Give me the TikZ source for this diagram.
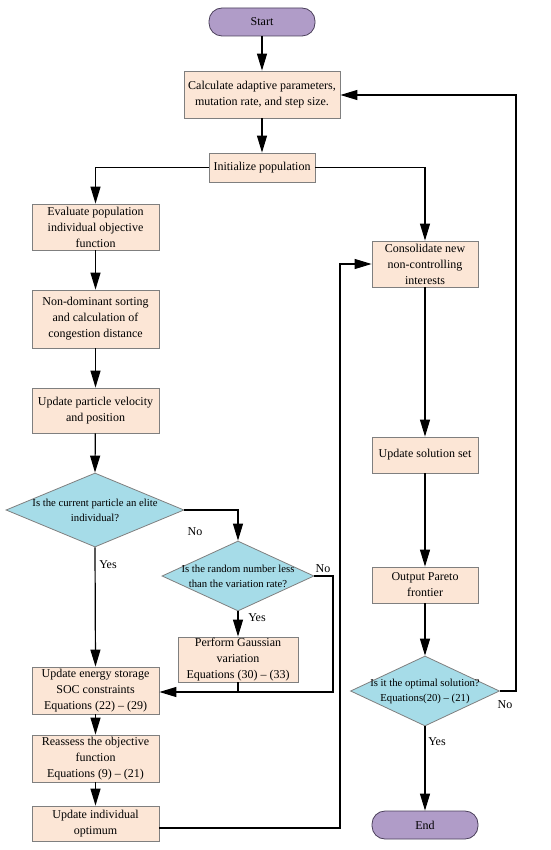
\documentclass[tikz,border=0pt]{standalone}
\usepackage{fontspec}
\setmainfont{Liberation Serif}
\usetikzlibrary{shapes.geometric,arrows.meta}
\definecolor{boxfill}{HTML}{FCE6D6}
\definecolor{boxdraw}{HTML}{7F7F7F}
\definecolor{dfill}{HTML}{A6DCE8}
\definecolor{tfill}{HTML}{B09CC8}
\definecolor{tdraw}{HTML}{4A3F5A}
\begin{document}
\begin{tikzpicture}[x=1pt,y=-1pt,
  font=\fontsize{12}{16}\selectfont,
  pbox/.style={draw=boxdraw,fill=boxfill,line width=0.8pt,align=center,inner sep=0pt},
  dec/.style={diamond,aspect=2.4,draw=boxdraw,fill=dfill,line width=0.8pt,inner sep=0pt},
  dtext/.style={align=center,inner sep=0pt,font=\fontsize{10.7}{15}\selectfont},
  term/.style={draw=tdraw,fill=tfill,rounded corners=13pt,line width=0.8pt,minimum width=106pt,minimum height=28pt},
  arr/.style={line width=1.2pt,-{Triangle[length=17pt,width=10pt]}},
  ln/.style={line width=1.2pt},
  lbl/.style={font=\fontsize{12}{14}\selectfont,inner sep=0pt}]
\useasboundingbox (0,0) rectangle (550,850);
% nodes
\node[term] (start) at (262,22) {Start};
\node[pbox,minimum width=156pt,minimum height=47pt] (calc) at (262,94.5) {Calculate adaptive parameters,\\mutation rate, and step size.};
\node[pbox,minimum width=106pt,minimum height=29pt] (init) at (262,167.5) {Initialize population};
\node[pbox,minimum width=127pt,minimum height=46pt] (eval) at (95.5,227) {Evaluate population\\individual objective\\function};
\node[pbox,minimum width=127pt,minimum height=58pt] (nds) at (95.5,319) {Non-dominant sorting\\and calculation of\\congestion distance};
\node[pbox,minimum width=127pt,minimum height=45pt] (upv) at (95.5,410.5) {Update particle velocity\\and position};
\node[dec,minimum width=178pt,minimum height=74pt] (d1) at (95,510) {};
\node[dtext] (d1t) at (d1.center) {Is the current particle an elite\\individual?};
\node[dec,minimum width=152pt,minimum height=70pt] (d2) at (238,576) {};
\node[dtext] (d2t) at (d2.center) {Is the random number less\\than the variation rate?};
\node[pbox,minimum width=120pt,minimum height=45pt] (gauss) at (238,659.5) {Perform Gaussian\\variation\\Equations (30) – (33)};
\node[pbox,minimum width=127pt,minimum height=47pt] (soc) at (95.5,690.5) {Update energy storage\\SOC constraints\\Equations (22) – (29)};
\node[pbox,minimum width=127pt,minimum height=47pt] (reas) at (95.5,758.5) {Reassess the objective\\function\\Equations (9) – (21)};
\node[pbox,minimum width=127pt,minimum height=35pt] (uio) at (95.5,823.5) {Update individual\\optimum};
\node[pbox,minimum width=106pt,minimum height=46pt] (cons) at (425,264) {Consolidate new\\non-controlling\\interests};
\node[pbox,minimum width=106pt,minimum height=36pt] (uss) at (425,455) {Update solution set};
\node[pbox,minimum width=106pt,minimum height=36pt] (opf) at (425,585) {Output Pareto\\frontier};
\node[dec,minimum width=149pt,minimum height=70pt] (d3) at (425,691) {};
\node[dtext] (d3t) at (d3.center) {Is it the optimal solution?\\Equations(20) – (21)};
\node[term] (end) at (425,825) {End};
% coordinates
\coordinate (fb) at (516,95);
\coordinate (d2r) at (333,576);
\coordinate (j) at (333,692);
\coordinate (gj) at (238,692);
\coordinate (uj) at (340,828);
% connectors
\draw[arr] (start) -- (calc);
\draw[arr] (calc) -- (init);
\draw[arr] (init.west) -| (eval.north);
\draw[arr] (init.east) -| (cons.north);
\draw[arr] (eval) -- (nds);
\draw[arr] (nds) -- (upv);
\draw[arr] (upv) -- (d1.north);
\draw[arr] (d1.east) -| (d2.north);
\draw[arr] (d1.south) -- (soc.north);
\draw[arr] (d2.south) -- (gauss.north);
\draw[ln] (d2.east) -- (d2r) -- (j) -- (gj);
\draw[ln] (gauss.south) -- (gj);
\draw[arr] (gj) -- (soc.east |- gj);
\draw[arr] (soc) -- (reas);
\draw[arr] (reas) -- (uio);
\draw[arr] (uio.east |- uj) -- (uj) |- (cons.west);
\draw[arr] (cons) -- (uss);
\draw[arr] (uss) -- (opf);
\draw[arr] (opf) -- (d3.north);
\draw[arr] (d3.south) -- (end);
\draw[arr] (d3.east) -| (fb) -- (calc.east |- fb);
% labels
\node[lbl] (l1) at (195,532) {No};
\node[lbl] (l2) at (108,565) {Yes};
\node[lbl] (l3) at (323,569) {No};
\node[lbl] (l4) at (257,618) {Yes};
\node[lbl] (l5) at (505,705) {No};
\node[lbl] (l6) at (437,742) {Yes};
\end{tikzpicture}
\end{document}
